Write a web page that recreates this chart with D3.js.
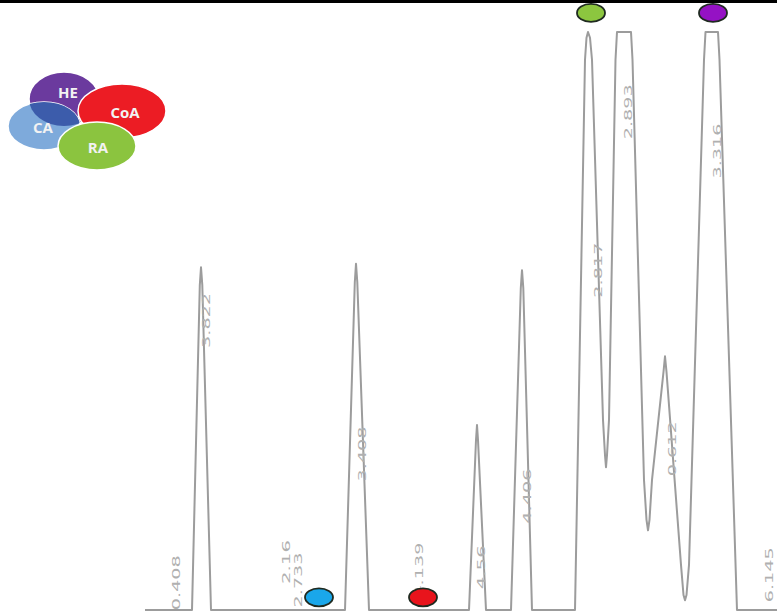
<!DOCTYPE html>
<html>
<head>
<meta charset="utf-8">
<script src="https://cdn.jsdelivr.net/npm/d3@7"></script>
<style>
  body { margin: 0; background: #fff; }
  #chromatogram { width: 777px; height: 616px; overflow: hidden; }
</style>
</head>
<body>
<div id="chromatogram"></div>
<script>
// trace: retention time (min) and detector signal (mAU, saturated at 1000)
var traceTime = [1.45, 1.92, 1.998, 2.01, 2.023, 2.11,
                 3.45, 3.548, 3.56, 3.573, 3.69,
                 4.69, 4.76, 4.77, 4.78, 4.86,
                 5.11, 5.208, 5.22, 5.233, 5.32,
                 5.75, 5.85, 5.865, 5.88, 5.90, 5.92, 6.03, 6.05, 6.06, 6.07, 6.09, 6.155, 6.17,
                 6.31, 6.325, 6.44, 6.465, 6.48, 6.495, 6.52, 6.635, 6.65, 6.665,
                 6.81, 6.835, 6.85, 6.865, 6.89,
                 7.04, 7.055, 7.18, 7.195, 7.37, 7.77];
var traceSignal = [0, 0, 562, 593, 562, 0,
                   0, 567, 599, 567, 0,
                   0, 294, 320, 294, 0,
                   0, 557, 588, 557, 0,
                   0, 952, 990, 1000, 990, 952, 329, 268, 247, 268, 329, 952, 1000,
                   1000, 952, 225, 156, 138, 156, 225, 412, 439, 412,
                   78, 26, 17, 26, 78,
                   952, 1000, 1000, 952, 0, 0];

// retention time labels printed by the integrator
var labelText   = ["0.408", "3.822", "2.16", "2.733", "3.408", "4.139", "4.56", "4.406",
                   "2.817", "2.893", "0.612", "3.316", "6.145"];
var labelTime   = [1.76, 2.06, 2.86, 2.98, 3.62, 4.19, 4.81, 5.27, 5.98, 6.28, 6.72, 7.17, 7.69];
var labelSignal = [47, 501, 83, 52, 270, 69, 74, 197, 588, 862, 279, 794, 61];

// compound markers
var markerName   = ["CA", "CoA", "RA", "HE"];
var markerTime   = [3.19, 4.23, 5.91, 7.13];
var markerSignal = [22, 22, 1033, 1033];
var markerColor  = ["#1aa7ea", "#e8141c", "#8cc63f", "#9512c4"];

// legend (venn logo)
var vennName  = ["HE", "CA", "CoA", "RA"];
var vennColor = ["#6b3a9e", "#7eaadb", "#ec1c24", "#8bc43f"];

var width = 777, height = 616;

var svg = d3.select("#chromatogram").append("svg")
    .attr("width", width)
    .attr("height", height);

svg.append("rect")
    .attr("width", width).attr("height", height)
    .attr("fill", "#fff");

// set the ranges
var x = d3.scaleLinear().domain([0, 7.77]).range([0, 777]);
var y = d3.scaleLinear().domain([0, 1000]).range([610, 32]);

var trace = traceTime.map(function(t, i) { return {t: t, s: traceSignal[i]}; });

var line = d3.line()
    .x(function(d) { return x(d.t); })
    .y(function(d) { return y(d.s); });

svg.append("path")
    .datum(trace)
    .attr("d", line)
    .attr("fill", "none")
    .attr("stroke", "#9c9c9c")
    .attr("stroke-width", 2)
    .attr("stroke-linejoin", "round");

// rotated peak labels
var labels = labelText.map(function(d, i) { return {text: d, t: labelTime[i], s: labelSignal[i]}; });
svg.selectAll(".rt")
    .data(labels)
  .enter().append("text")
    .attr("class", "rt")
    .attr("transform", function(d) { return "translate(" + x(d.t) + "," + y(d.s) + ") rotate(-90)"; })
    .attr("text-anchor", "middle")
    .attr("dy", "0.35em")
    .attr("textLength", function(d) { return d.text.length * 11; })
    .attr("lengthAdjust", "spacingAndGlyphs")
    .style("font-family", "'DejaVu Sans', sans-serif")
    .style("font-size", "11px")
    .style("fill", "#b0b0b0")
    .text(function(d) { return d.text; });

// marker dots
var markers = markerName.map(function(d, i) { return {name: d, t: markerTime[i], s: markerSignal[i], c: markerColor[i]}; });
svg.selectAll(".marker")
    .data(markers)
  .enter().append("ellipse")
    .attr("class", "marker")
    .attr("cx", function(d) { return x(d.t); })
    .attr("cy", function(d) { return y(d.s); })
    .attr("rx", 14)
    .attr("ry", 9)
    .attr("fill", function(d) { return d.c; })
    .attr("stroke", "#1f2a20")
    .attr("stroke-width", 1.8);

// black strip along the top edge
svg.append("rect")
    .attr("x", 0).attr("y", 0)
    .attr("width", width).attr("height", 3)
    .attr("fill", "#000");

// venn logo in the corner
var venn = [
  {cx: 64, cy: 99, rx: 35, ry: 27},
  {cx: 44, cy: 126, rx: 36, ry: 24},
  {cx: 122, cy: 111, rx: 44, ry: 27},
  {cx: 97, cy: 146, rx: 39, ry: 24}
];
var logo = svg.append("g");
var defs = svg.append("defs");
defs.append("clipPath").attr("id", "clipHE")
  .append("ellipse")
    .attr("cx", venn[0].cx).attr("cy", venn[0].cy)
    .attr("rx", venn[0].rx).attr("ry", venn[0].ry);

vennName.forEach(function(n, i) {
  var v = venn[i];
  logo.append("ellipse")
      .attr("cx", v.cx).attr("cy", v.cy)
      .attr("rx", v.rx).attr("ry", v.ry)
      .attr("fill", vennColor[i])
      .attr("stroke", "#fff")
      .attr("stroke-width", 1.5);
  if (n == "CA") {
    // darker overlap of HE and CA
    logo.append("ellipse")
        .attr("cx", v.cx).attr("cy", v.cy)
        .attr("rx", v.rx).attr("ry", v.ry)
        .attr("clip-path", "url(#clipHE)")
        .attr("fill", "#3c5cab");
  }
});

var vennText = [{x: 68, y: 93}, {x: 43, y: 128}, {x: 125, y: 113}, {x: 98, y: 148}];
vennName.forEach(function(n, i) {
  logo.append("text")
      .attr("x", vennText[i].x).attr("y", vennText[i].y)
      .attr("dy", "0.35em")
      .attr("text-anchor", "middle")
      .style("font-family", "'Open Sans', sans-serif")
      .style("font-weight", "bold")
      .style("font-size", "15px")
      .style("fill", "#f2f2f2")
      .text(n);
});
</script>
</body>
</html>
